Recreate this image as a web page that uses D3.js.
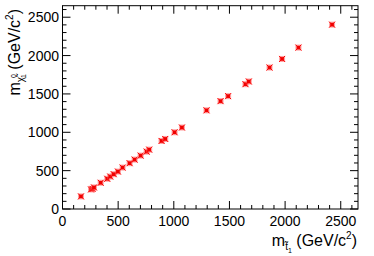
<!DOCTYPE html>
<html><head><meta charset="utf-8">
<script src="https://cdn.jsdelivr.net/npm/d3@7"></script>
<style>body{margin:0;background:#fff}svg{display:block}text{font-family:"Liberation Sans",Arial,sans-serif}</style>
</head><body>
<script>
const stopMass = [166,256,270,283,343,402,429,460,498,540,603,648,702,756,779,890,923,1007,1073,1294,1420,1488,1644,1674,1860,1973,2120,2422];
const lspMass  = [164,255,262,281,342,394,423,454,488,540,597,644,696,748,774,887,913,1000,1062,1286,1406,1471,1627,1662,1844,1956,2104,2403];
const xTicks = [0,500,1000,1500,2000,2500];
const yTicks = [0,500,1000,1500,2000,2500];

const W=374,H=256, L=62.5, R=358, T=5.7, B=209;
const svg=d3.select("body").append("svg").attr("width",W).attr("height",H);
const x=d3.scaleLinear().domain([0,2655]).range([L,R]);
const y=d3.scaleLinear().domain([0,2650]).range([B,T]);

const g=svg.append("g");
g.append("rect").attr("x",L).attr("y",T).attr("width",R-L).attr("height",B-T)
 .attr("fill","none").attr("stroke","#000").attr("stroke-width",1);

const minorX=d3.range(0,2651,100), minorY=d3.range(0,2651,100);
minorX.forEach(v=>{
  const len=(v%500===0)?8:4; const xp=x(v);
  g.append("line").attr("x1",xp).attr("x2",xp).attr("y1",B).attr("y2",B-len).attr("stroke","#000");
  g.append("line").attr("x1",xp).attr("x2",xp).attr("y1",T).attr("y2",T+len).attr("stroke","#000");
});
minorY.forEach(v=>{
  const len=(v%500===0)?8:4; const yp=y(v);
  g.append("line").attr("y1",yp).attr("y2",yp).attr("x1",L).attr("x2",L+len).attr("stroke","#000");
  g.append("line").attr("y1",yp).attr("y2",yp).attr("x1",R).attr("x2",R-len).attr("stroke","#000");
});

g.selectAll(".xl").data(xTicks).enter().append("text")
 .attr("x",d=>x(d)).attr("y",226).attr("text-anchor","middle").attr("font-size",14).text(d=>d);
g.selectAll(".yl").data(yTicks).enter().append("text")
 .attr("x",59).attr("y",d=>y(d)+5).attr("text-anchor","end").attr("font-size",14).text(d=>d);

const pts=stopMass.map((v,i)=>[v,lspMass[i]]);
const mk=g.selectAll(".m").data(pts).enter().append("g")
 .attr("transform",d=>`translate(${x(d[0])},${y(d[1])})`);
mk.append("rect").attr("x",-3).attr("y",-3).attr("width",6).attr("height",6).attr("fill","#ff6060").attr("opacity",0.6);
mk.append("path").attr("d","M-3,-3L3,3M-3,3L3,-3").attr("stroke","#ff0000").attr("stroke-width",1);
mk.append("rect").attr("x",-1.8).attr("y",-1.8).attr("width",3.6).attr("height",3.6).attr("fill","#f00000");

const xt=svg.append("text").attr("x",357).attr("y",246).attr("text-anchor","end").attr("font-size",16);
xt.append("tspan").text("m");
xt.append("tspan").attr("font-size",10).attr("dy",4).text("t\u0303");
xt.append("tspan").attr("font-size",7).attr("dy",3).text("1");
xt.append("tspan").attr("dy",-7).text(" (GeV/c");
xt.append("tspan").attr("font-size",10).attr("dy",-7).text("2");
xt.append("tspan").attr("dy",7).text(")");

const yt=svg.append("text").attr("transform","translate(20,9) rotate(-90)").attr("text-anchor","end").attr("font-size",16);
yt.append("tspan").text("m");
yt.append("tspan").attr("font-size",10).attr("dy",4).text("\u03C7\u0303");
yt.append("tspan").attr("font-size",7).attr("dy",-8).attr("dx",-1).text("0");
yt.append("tspan").attr("font-size",7).attr("dy",10).attr("dx",-4).text("1");
yt.append("tspan").attr("dy",-6).text(" (GeV/c");
yt.append("tspan").attr("font-size",10).attr("dy",-7).text("2");
yt.append("tspan").attr("dy",7).text(")");
</script>
</body></html>
